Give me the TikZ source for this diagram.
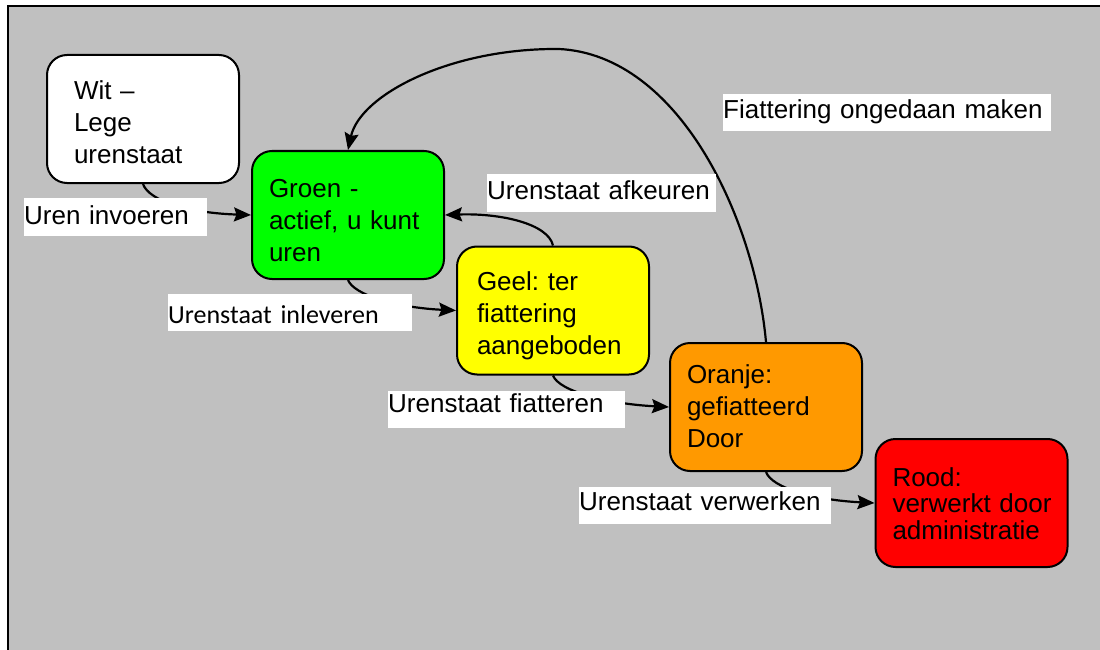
\documentclass[tikz,border=0pt]{standalone}
\usepackage{fontspec}
\setmainfont{Liberation Sans}
\newfontfamily\calfont{Carlito}
\usetikzlibrary{arrows.meta}
\definecolor{bggray}{HTML}{C0C0C0}
\definecolor{stgreen}{HTML}{00FF00}
\definecolor{styellow}{HTML}{FFFF00}
\definecolor{storange}{HTML}{FF9900}
\definecolor{stred}{HTML}{FF0000}
\frenchspacing
\tikzset{
  statebox/.style={draw=black, line width=2pt, rounded corners=20pt,
    minimum width=192pt, minimum height=128pt, text width=158pt, align=left,
    inner sep=0pt, text height=0pt,
    font=\frenchspacing\fontsize{26}{32}\selectfont},
  lbl/.style={fill=white, inner sep=0pt, anchor=base west, align=left,
    font=\fontsize{26}{32}\selectfont},
  conn/.style={line width=2.2pt, -{Stealth[length=17pt,width=14pt,inset=2.5pt]}},
}
\begin{document}
\begin{tikzpicture}[x=1pt,y=-1pt]
\useasboundingbox (0,0) rectangle (1100,650);
\fill[white] (0,0) rectangle (1100,650);
\fill[bggray] (8,6) rectangle (1100,650);
\draw[line width=2.2pt] (8,650) -- (8,6) -- (1100,6);

% state boxes
\node[statebox, fill=white, text width=138pt, text depth=38pt] (w) at (143,119) {Wit –\\Lege\\urenstaat};
\node[statebox, fill=stgreen, text depth=36pt] (g) at (348,215) {Groen -\\actief, u kunt\\uren};
\node[statebox, fill=styellow, text width=152pt, text depth=41pt] (y) at (553,310.5) {Geel: ter\\fiattering\\aangeboden};
\node[statebox, fill=storange, text depth=48pt] (o) at (766,407) {Oranje:\\gefiatteerd\\Door};
\node[statebox, fill=stred, text depth=34pt, font=\fontsize{26}{26.5}\selectfont] (r) at (971.5,503) {Rood:\\\mbox{verwerkt door}\\administratie};

% connectors
\draw[conn] (w.south) .. controls +(6,17) and +(-62,-2) .. (g.west);
\draw[conn] (g.south) .. controls +(6,15) and +(-60,-3) .. (y.west);
\draw[conn] (y.north) .. controls +(-5,-22) and +(55,-2) .. (g.east);
\draw[conn] (y.south) .. controls +(6,16) and +(-60,-3) .. (o.west);
\draw[conn] (o.south) .. controls +(6,16) and +(-60,-3) .. (r.west);
\draw[conn] (o.north) .. controls (755,220) and (680,55) .. (559,49)
                      .. controls (450,48) and (360,95) .. (g.north);

% labels
\node[lbl, text width=183pt, text height=26pt, text depth=12pt] (l1) at (24,224) {Uren invoeren};
\node[lbl, text width=244pt, text height=29pt, text depth=8pt, font=\calfont\fontsize{26}{32}\selectfont] (l2) at (168,323) {Urenstaat inleveren};
\node[lbl, text width=229pt, text height=25pt, text depth=13pt] (l3) at (487,199) {Urenstaat afkeuren};
\node[lbl, text width=237pt, text height=21pt, text depth=16pt] (l4) at (388,412) {Urenstaat fiatteren};
\node[lbl, text width=252pt, text height=23pt, text depth=14pt] (l5) at (579,510) {Urenstaat verwerken};
\node[lbl, text width=328pt, text height=25pt, text depth=12pt] (l6) at (723,119) {Fiattering ongedaan maken};
\end{tikzpicture}
\end{document}
